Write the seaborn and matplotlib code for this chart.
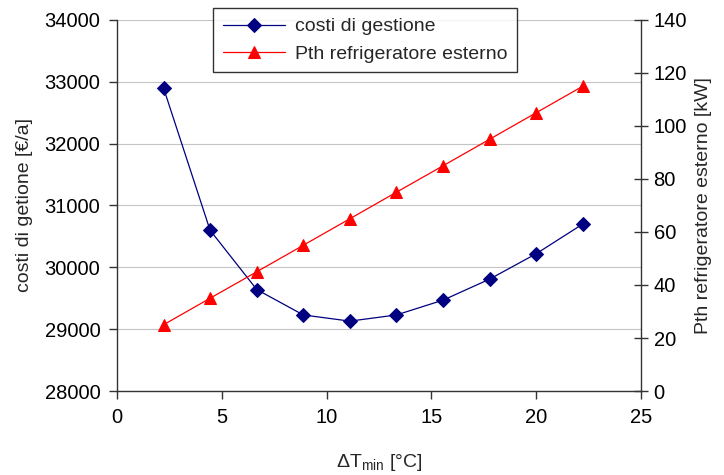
import numpy as np
import pandas as pd
import matplotlib
matplotlib.use("Agg")
import matplotlib.pyplot as plt
import seaborn as sns

# data
delta_t = [2.22, 4.44, 6.67, 8.89, 11.11, 13.33, 15.56, 17.78, 20.0, 22.22]
costi = [32900, 30600, 29640, 29230, 29130, 29230, 29470, 29810, 30220, 30700]
pth = [25, 35, 45, 55, 65, 75, 85, 95, 105, 115]

sns.set_style("white")
plt.rcParams['font.family'] = ['Liberation Sans', 'DejaVu Sans']
plt.rcParams['mathtext.fontset'] = 'custom'
plt.rcParams['mathtext.rm'] = 'Liberation Sans'
plt.rcParams['mathtext.it'] = 'Liberation Sans'

df = pd.DataFrame({"dT": delta_t, "costi": costi, "pth": pth})

fig = plt.figure(figsize=[7.24, 4.75], dpi=100)
ax = fig.add_axes([0.1616, 0.1768, 0.7238, 0.7812])
ax2 = ax.twinx()

sns.lineplot(data=df, x="dT", y="costi", ax=ax, color="#000080", lw=0.9,
             marker="D", markersize=7, markeredgecolor="#000080",
             label="costi di gestione", legend=False)
sns.lineplot(data=df, x="dT", y="pth", ax=ax2, color="#FF0000", lw=0.9,
             marker="^", markersize=9, markeredgecolor="#FF0000",
             label="Pth refrigeratore esterno", legend=False)

ax.set_xlim(0, 25)
ax.set_ylim(28000, 34000)
ax.set_yticks(np.arange(28000, 34001, 1000))
ax.set_xticks([0, 5, 10, 15, 20, 25])
ax2.set_ylim(0, 140)
ax2.set_yticks(np.arange(0, 141, 20))

ax.yaxis.grid(True, color="#c4c4c4", lw=0.8)
ax.set_axisbelow(True)

for a in (ax, ax2):
    for s in a.spines.values():
        s.set_visible(False)
ax.spines['left'].set_visible(True)
ax.spines['bottom'].set_visible(True)
ax2.spines['right'].set_visible(True)
for s in (ax.spines['left'], ax.spines['bottom'], ax2.spines['right']):
    s.set_color("#333333")
    s.set_linewidth(1.0)

ax.tick_params(axis='both', direction='out', length=6, width=1, color="#333333",
               labelsize=14.5, labelcolor="black", pad=6, left=True, bottom=True)
ax2.tick_params(axis='y', direction='inout', length=10, width=1, color="#333333",
                labelsize=14.5, labelcolor="black", pad=4, right=True)

ax.set_ylabel("costi di getione [€/a]", fontsize=14, labelpad=8)
ax2.set_ylabel("Pth refrigeratore esterno [kW]", fontsize=14, labelpad=6)
ax.set_xlabel(r"ΔT$_{\mathrm{min}}$ [°C]", fontsize=14, labelpad=18)

h1, l1 = ax.get_legend_handles_labels()
h2, l2 = ax2.get_legend_handles_labels()
leg = fig.legend(h1 + h2, l1 + l2, loc="upper left",
                 bbox_to_anchor=(213 / 724, 1 - 8 / 475), borderaxespad=0,
                 frameon=True, fontsize=14, fancybox=False, edgecolor="black",
                 handlelength=3.2, borderpad=0.5, labelspacing=0.5,
                 handletextpad=0.5)
leg.get_frame().set_linewidth(1.0)

plt.savefig("out.png", dpi=100)
